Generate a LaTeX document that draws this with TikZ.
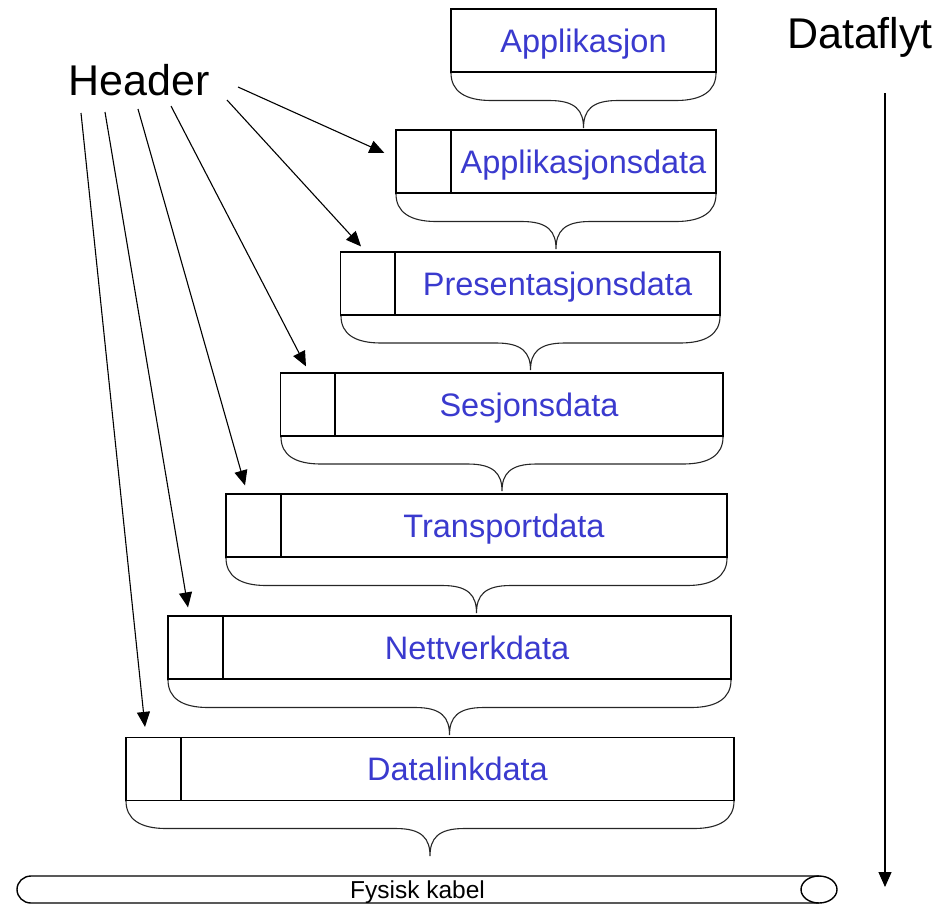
\documentclass[tikz,border=0pt]{standalone}
\usepackage{fontspec}
\setmainfont{Liberation Sans}
\usetikzlibrary{arrows.meta,calc}

\definecolor{labelblue}{RGB}{58,58,206}

\tikzset{
  pkt/.style={draw, line width=1.2pt, minimum height=63pt, inner sep=0pt,
    text height=23pt, text depth=0pt, text=labelblue,
    font=\fontsize{32.5}{39}\selectfont},
  hdr/.style={draw, line width=1.2pt, minimum height=63pt, minimum width=55pt, inner sep=0pt},
  ptr/.style={line width=1.1pt, -{Triangle[length=15pt,width=13pt]}},
  brc/.style={line width=1.1pt, black!85},
  bigtext/.style={font=\fontsize{43}{50}\selectfont, anchor=base, inner sep=0pt},
}

% curly brace under a packet: left x, right x, top y, tip y
\newcommand{\pktbrace}[4]{%
  \pgfmathsetmacro\brcC{(#1+#2)/2}%
  \pgfmathsetmacro\brcM{(#3+#4)/2}%
  \draw[brc] (#1,#3) .. controls (#1,{#3+18}) and ({#1+14},\brcM) .. ({#1+40},\brcM)
    -- ({\brcC-34},\brcM) .. controls ({\brcC-8},\brcM) and (\brcC,{\brcM+10}) .. (\brcC,#4)
    .. controls (\brcC,{\brcM+10}) and ({\brcC+8},\brcM) .. ({\brcC+34},\brcM)
    -- ({#2-40},\brcM) .. controls ({#2-14},\brcM) and (#2,{#3+18}) .. (#2,#3);
}

\begin{document}
\begin{tikzpicture}[x=1pt, y=-1pt]
\useasboundingbox (0,0) rectangle (941,906);

% packets, from the application layer down to the data link layer
\node[pkt, minimum width=265pt] (app) at (583.5,40.5) {Applikasjon};

\node[hdr] (h2) at (423.5,161.5) {};
\node[pkt, minimum width=265pt] (d2) at (583.5,161.5) {Applikasjonsdata};

\node[hdr] (h3) at (368,283.5) {};
\node[pkt, minimum width=325pt] (d3) at (557.5,283.5) {Presentasjonsdata};

\node[hdr] (h4) at (308,404.5) {};
\node[pkt, minimum width=388pt] (d4) at (529,404.5) {Sesjonsdata};

\node[hdr] (h5) at (253.5,525.5) {};
\node[pkt, minimum width=446pt] (d5) at (504,525.5) {Transportdata};

\node[hdr] (h6) at (195.5,647.5) {};
\node[pkt, minimum width=508pt] (d6) at (477,647.5) {Nettverkdata};

\node[hdr] (h7) at (153.5,769) {};
\node[pkt, minimum width=553pt] (d7) at (457.5,769) {Datalinkdata};

% braces gathering each packet into the one below
\pktbrace{451}{716}{73}{128}
\pktbrace{396}{716}{194}{249}
\pktbrace{341}{720}{316}{370}
\pktbrace{281}{723}{437}{491}
\pktbrace{226}{727}{558}{613}
\pktbrace{168}{731}{680}{735}
\pktbrace{126}{734}{801}{856}

% header label and its pointers
\node[bigtext] (header) at (139,95) {Header};
\coordinate (s1) at (238,87);
\coordinate (s2) at (227,100);
\coordinate (s3) at (171,106);
\coordinate (s4) at (138,109);
\coordinate (s5) at (105,112);
\coordinate (s6) at (81,113);
\draw[ptr] (s1) -- ([shift={(-11,-8.5)}]h2.west);
\draw[ptr] (s2) -- ([shift={(-7,-5)}]h3.north);
\draw[ptr] (s3) -- ([shift={(-2,-6)}]h4.north);
\draw[ptr] (s4) -- ([shift={(-8.5,-8)}]h5.north);
\draw[ptr] (s5) -- ([shift={(-7.5,-8)}]h6.north);
\draw[ptr] (s6) -- ([shift={(-8.5,-10)}]h7.north);

% direction of the data flow
\node[bigtext] (flow) at (860,48) {Dataflyt};
\coordinate (flowtop) at (885,93);
\coordinate (flowend) at (885,887);
\draw[ptr] (flowtop) -- (flowend);

% the physical cable
\draw[line width=1.4pt] (819,876) -- (31,876)
  arc[start angle=270, end angle=90, x radius=14, y radius=13.5] -- (819,903);
\draw[line width=1.4pt] (819,889.5) ellipse[x radius=18, y radius=13.5];
\node[font=\fontsize{24.5}{29}\selectfont, anchor=base, inner sep=0pt] (cable) at (417.5,898) {Fysisk kabel};
\end{tikzpicture}
\end{document}
